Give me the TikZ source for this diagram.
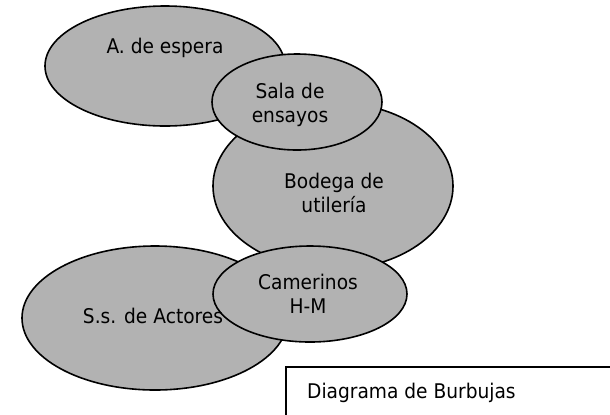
\documentclass[tikz,border=0pt]{standalone}
\usepackage{fontspec}
\setmainfont{DejaVu Sans}[FakeStretch=0.92]
\usepackage{xcolor}
\usepackage{tikz}
\usetikzlibrary{shapes.geometric}

\definecolor{bubblegray}{RGB}{178,178,178}
\tikzset{
  bubble/.style={ellipse, draw, line width=1.6bp, fill=bubblegray, inner sep=0pt},
  bubbletext/.style={font=\fontsize{20.3}{24}\selectfont, align=center, inner sep=0pt}
}

\begin{document}
\begin{tikzpicture}[x=1bp, y=-1bp]
  \useasboundingbox (0,0) rectangle (610,414);

  % bubbles
  \node[bubble, minimum width=240bp, minimum height=120bp] (espera) at (165,66) {};
  \node[bubble, minimum width=240bp, minimum height=167bp] (bodega) at (333,186) {};
  \node[bubble, minimum width=170bp, minimum height=96bp] (ensayos) at (297,102) {};
  \node[bubble, minimum width=266bp, minimum height=144bp] (actores) at (155,318) {};
  \node[bubble, minimum width=194bp, minimum height=96bp] (camerinos) at (310,294) {};

  % bubble names
  \node[bubbletext, anchor=base] (esperatxt) at (165,53) {A. de espera};
  \node[bubbletext] (ensayostxt) at (290,105) {Sala de\\ensayos};
  \node[bubbletext] (bodegatxt) at (334,193) {Bodega de\\utilería};
  \node[bubbletext, anchor=base] (actorestxt) at (153,323) {S.s. de Actores};
  \node[bubbletext] (camerinostxt) at (308,294) {Camerinos\\H-M};

  % title box
  \draw[line width=1.6bp] (286,416) |- (640,367);
  \node[bubbletext, anchor=base west] (titulo) at (307,398) {Diagrama de Burbujas};
\end{tikzpicture}
\end{document}
